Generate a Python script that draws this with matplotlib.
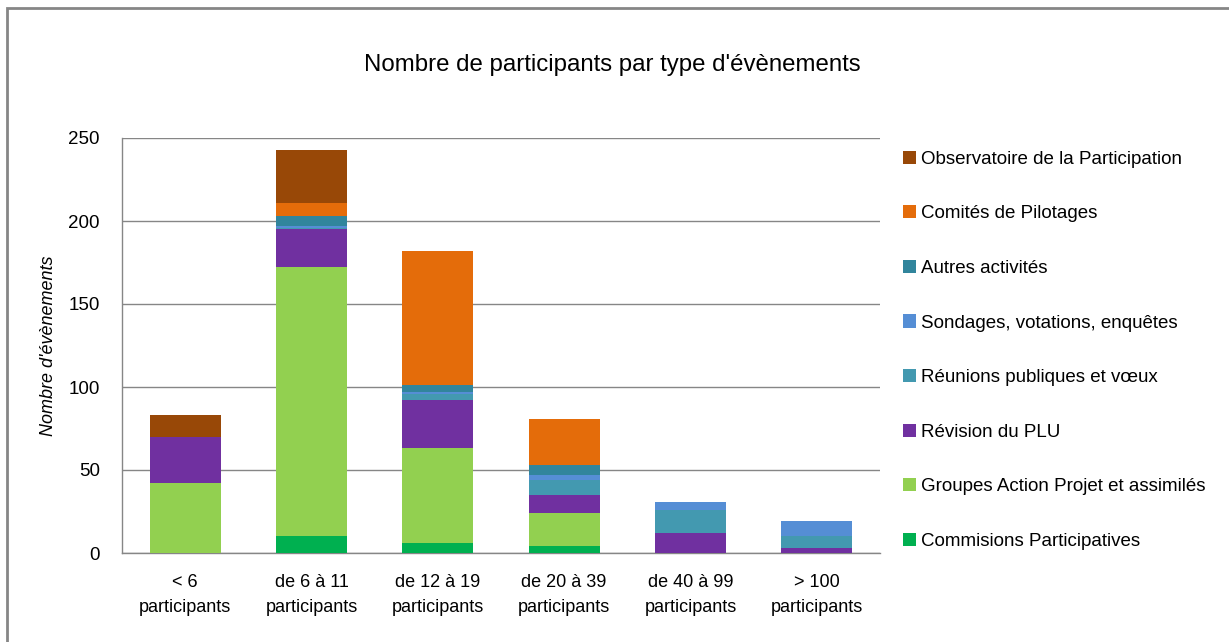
import matplotlib
matplotlib.use("Agg")
import matplotlib.pyplot as plt
from matplotlib.patches import Rectangle
import numpy as np

plt.rcParams['font.family'] = ['Liberation Sans', 'DejaVu Sans']

categories = ["< 6\nparticipants", "de 6 à 11\nparticipants", "de 12 à 19\nparticipants",
              "de 20 à 39\nparticipants", "de 40 à 99\nparticipants", "> 100\nparticipants"]

# series from bottom to top
commissions = [0, 10, 6, 4, 0, 0]
groupes_action = [42, 162, 57, 20, 0, 0]
revision_plu = [28, 23, 29, 11, 12, 3]
reunions = [0, 1, 4, 9, 14, 7]
sondages = [0, 1, 1, 3, 5, 9]
autres = [0, 6, 4, 6, 0, 0]
comites = [0, 8, 81, 28, 0, 0]
observatoire = [13, 32, 0, 0, 0, 0]

series_names = ["Commisions Participatives", "Groupes Action Projet et assimilés",
                "Révision du PLU", "Réunions publiques et vœux",
                "Sondages, votations, enquêtes", "Autres activités",
                "Comités de Pilotages", "Observatoire de la Participation"]
series_values = [commissions, groupes_action, revision_plu, reunions,
                 sondages, autres, comites, observatoire]
colors = ["#00B050", "#92D050", "#7030A0", "#4399B0",
          "#558ED5", "#31859C", "#E46C0A", "#984807"]

fig = plt.figure(figsize=(12.29, 6.42), dpi=100)
# outer border
fig.add_artist(Rectangle((7 / 1229, -0.05), 1.2, 1 - 7.5 / 642 + 0.05,
                         transform=fig.transFigure, fill=False,
                         edgecolor="#868686", linewidth=2))

ax = fig.add_axes([122 / 1229, 1 - 553 / 642, (880 - 122) / 1229, (553 - 138) / 642])

x = np.arange(len(categories))
bottom = np.zeros(len(categories))
handles = []
for name, vals, c in zip(series_names, series_values, colors):
    v = np.array(vals, dtype=float)
    b = ax.bar(x, v, bottom=bottom, width=0.56, color=c, label=name, zorder=3)
    handles.append(b)
    bottom += v

ax.set_ylim(0, 250)
ax.set_xlim(-0.5, len(categories) - 0.5)
ax.set_yticks([0, 50, 100, 150, 200, 250])
ax.yaxis.grid(True, color="#868686", linewidth=1, zorder=0)
ax.set_axisbelow(True)
for s in ["top", "right"]:
    ax.spines[s].set_visible(False)
for s in ["left", "bottom"]:
    ax.spines[s].set_color("#868686")
    ax.spines[s].set_linewidth(1)
ax.set_xticks(x)
ax.set_xticklabels(categories, fontsize=13, linespacing=1.6)
ax.tick_params(axis="both", length=0, colors="black")
ax.tick_params(axis="y", labelsize=13.5, pad=16)
ax.tick_params(axis="x", pad=15)

ax.set_ylabel("Nombre d'évènements", fontsize=13, style="italic", labelpad=8)

fig.text(612 / 1229, 1 - 65 / 642, "Nombre de participants par type d'évènements",
         fontsize=17.3, ha="center", va="center")

leg = fig.legend(handles[::-1], series_names[::-1], loc="upper left",
                 bbox_to_anchor=(895 / 1229, 1 - 143 / 642),
                 frameon=False, fontsize=13.5, handlelength=0.7, handleheight=0.7,
                 handletextpad=0.3, labelspacing=2.0, borderaxespad=0)

fig.savefig("out.png", dpi=100)
